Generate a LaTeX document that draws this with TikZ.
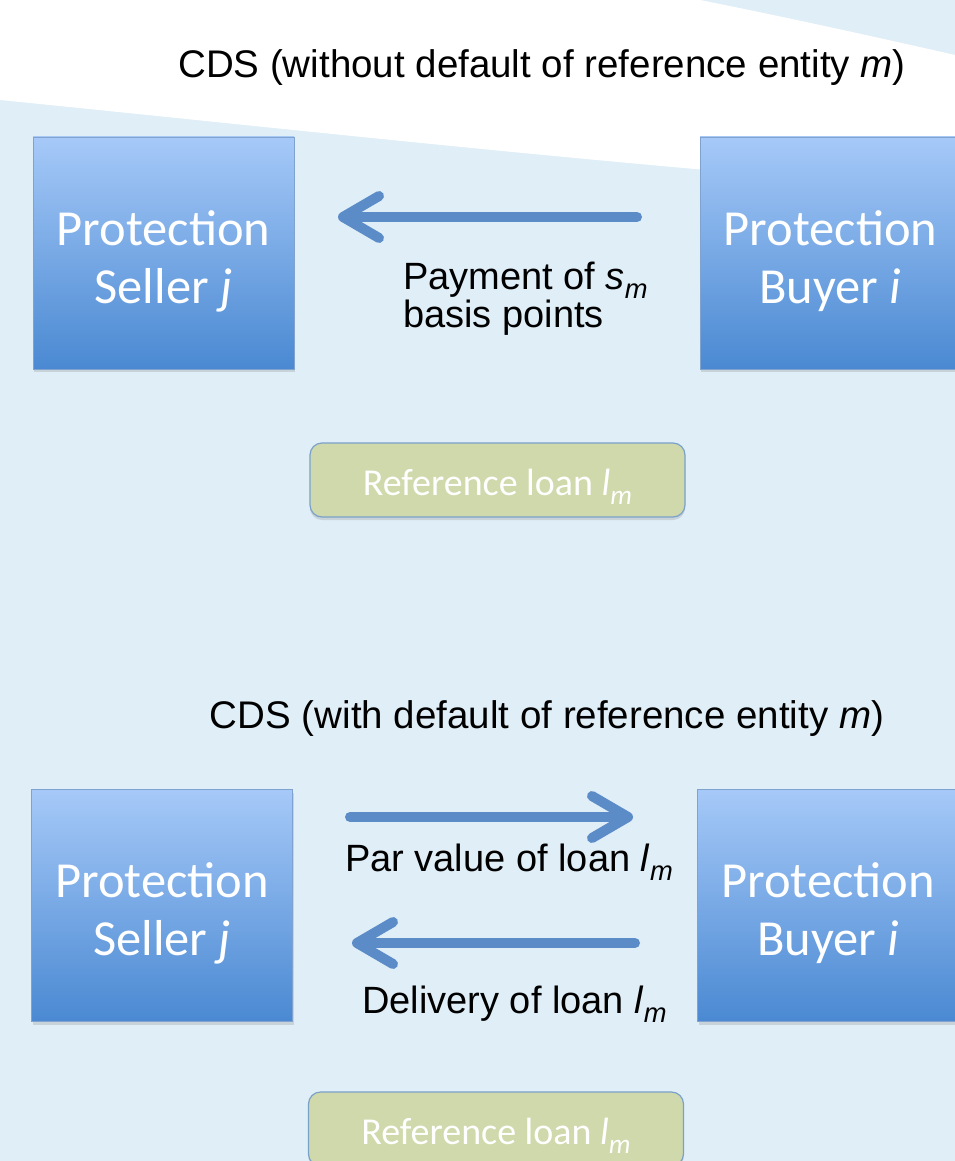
\documentclass[tikz,border=0pt]{standalone}
\usepackage{fontspec}
\setmainfont{Liberation Sans}
\newfontfamily\boxfont{Carlito}
\usetikzlibrary{arrows.meta,shadows}

\definecolor{slideblue}{HTML}{DFEEF7}
\definecolor{partytop}{HTML}{A6C9F8}
\definecolor{partybot}{HTML}{4A89D2}
\definecolor{partyline}{HTML}{7FA2CF}
\definecolor{loanfill}{HTML}{CFD9AC}
\definecolor{loanline}{HTML}{7BA1C9}
\definecolor{flowblue}{HTML}{5B8CC8}

% italic index set low, as on the slides
\newcommand{\idx}[1]{\raisebox{-0.24em}{\scalebox{0.72}{\itshape #1}}}

\begin{document}
\begin{tikzpicture}[x=1pt,y=1pt,
    party/.style={draw=partyline,line width=0.8pt,top color=partytop,bottom color=partybot,
      minimum width=261pt,minimum height=232pt,inner sep=0pt,text=white,align=center,
      text height=110pt,text depth=10pt,
      font=\boxfont\fontsize{50.5}{58}\selectfont,
      drop shadow={shadow xshift=1pt,shadow yshift=-3pt,opacity=0.25}},
    loan/.style={draw=loanline,line width=1.2pt,fill=loanfill,rounded corners=12pt,
      minimum width=375pt,minimum height=74pt,text height=32pt,text depth=2pt,text=white,
      font=\boxfont\fontsize{38}{44}\selectfont,
      drop shadow={shadow xshift=0pt,shadow yshift=-3pt,opacity=0.25}},
    flow/.style={draw=flowblue,line width=10pt,line cap=round,-{Straight Barb[round,length=36pt,width=42pt]}},
    head/.style={font=\fontsize{38.5}{44}\selectfont,anchor=base},
    note/.style={font=\fontsize{38}{38}\selectfont,align=left,inner sep=0pt,anchor=base west}]
  \useasboundingbox (0,0) rectangle (955,-1161);

  % background with the white sweep at the top
  \fill[slideblue] (0,0) rectangle (955,-1161);
  \fill[white] (0,0) -- (700,0) .. controls (790,-18) and (880,-38) .. (955,-55)
    -- (955,-190) .. controls (620,-166) and (300,-130) .. (0,-100) -- cycle;

  % without default
  \node[head] (title1) at (542,-78) {CDS (without default of reference entity \textit{m})};
  \node[party] (seller1) at (163.5,-253) {Protection\\Seller \textit{j}};
  \node[party] (buyer1) at (830.5,-253) {Protection\\Buyer \textit{i}};
  \coordinate (pay1) at (637,-217);
  \coordinate (pay2) at (338,-217);
  \draw[flow] (pay1) -- (pay2);
  \node[note] (payment) at (403,-327) {Payment of \textit{s}\idx{m}\\basis points};
  \node[loan] (loan1) at (497.5,-480) {Reference loan \textit{l}\idx{m}};

  % with default
  \node[head] (title2) at (547,-728) {CDS (with default of reference entity \textit{m})};
  \node[party] (seller2) at (162,-905.5) {Protection\\Seller \textit{j}};
  \node[party] (buyer2) at (828,-905.5) {Protection\\Buyer \textit{i}};
  \coordinate (par1) at (350,-817);
  \coordinate (par2) at (633,-817);
  \coordinate (del1) at (635,-943);
  \coordinate (del2) at (352,-943);
  \draw[flow] (par1) -- (par2);
  \draw[flow] (del1) -- (del2);
  \node[note] (parvalue) at (345,-871) {Par value of loan \textit{l}\idx{m}};
  \node[note] (delivery) at (362,-1013) {Delivery of loan \textit{l}\idx{m}};
  \node[loan] (loan2) at (496,-1129) {Reference loan \textit{l}\idx{m}};
\end{tikzpicture}
\end{document}
